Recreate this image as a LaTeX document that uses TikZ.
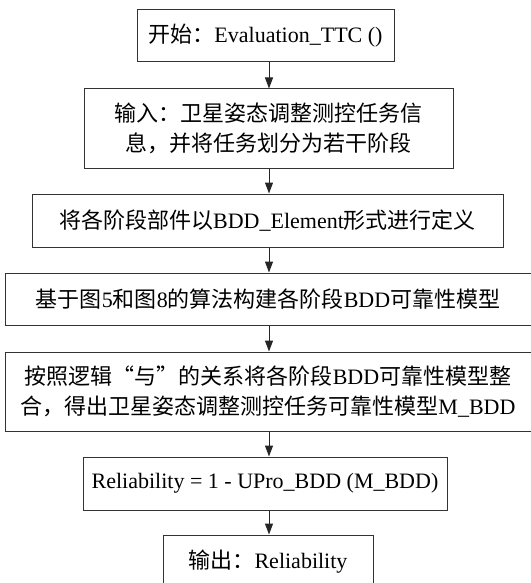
\documentclass[tikz,border=0pt]{standalone}
\usepackage{fontspec}
\setmainfont{Liberation Serif}
\newfontfamily\cjk{Noto Sans CJK SC}
\usetikzlibrary{arrows.meta}
\begin{document}
\begin{tikzpicture}[x=1pt, y=-1pt,
  stepbox/.style={draw=black!80, line width=1pt, inner sep=0pt, align=center,
    font=\fontsize{22}{29.5}\selectfont, text=black},
  arr/.style={draw=black!85, line width=1pt, -{Triangle[length=11pt, width=8pt]}}]
\useasboundingbox (0,0) rectangle (530,583);
\coordinate (ax) at (269,0);
\node[stepbox, minimum width=257pt, minimum height=52pt] (b1) at (265.5,36)
  {{\cjk 开始：}Evaluation\_TTC ()};
\node[stepbox, minimum width=369pt, minimum height=79pt] (b2) at (268.5,128.5)
  {{\cjk 输入：卫星姿态调整测控任务信}\\{\cjk 息，并将任务划分为若干阶段}};
\node[stepbox, minimum width=471pt, minimum height=53pt] (b3) at (267.5,220.5)
  {{\cjk 将各阶段部件以}BDD\_Element{\cjk 形式进行定义}};
\node[stepbox, minimum width=526pt, minimum height=52pt] (b4) at (268,299)
  {{\cjk 基于图}5{\cjk 和图}8{\cjk 的算法构建各阶段}BDD{\cjk 可靠性模型}};
\node[stepbox, minimum width=526pt, minimum height=79pt] (b5) at (268,391.5)
  {{\cjk 按照逻辑“与”的关系将各阶段}BDD{\cjk 可靠性模型整}\\{\cjk 合，得出卫星姿态调整测控任务可靠性模型}M\_BDD};
\node[stepbox, minimum width=364pt, minimum height=53pt] (b6) at (265,483.5)
  {Reliability = 1 - UPro\_BDD (M\_BDD)};
\node[stepbox, minimum width=210pt, minimum height=53pt] (b7) at (268,561.5)
  {{\cjk 输出：}Reliability};
\draw[arr] (b1.south -| ax) -- (b2.north -| ax);
\draw[arr] (b2.south -| ax) -- (b3.north -| ax);
\draw[arr] (b3.south -| ax) -- (b4.north -| ax);
\draw[arr] (b4.south -| ax) -- (b5.north -| ax);
\draw[arr] (b5.south -| ax) -- (b6.north -| ax);
\draw[arr] (b6.south -| ax) -- (b7.north -| ax);
\end{tikzpicture}
\end{document}
